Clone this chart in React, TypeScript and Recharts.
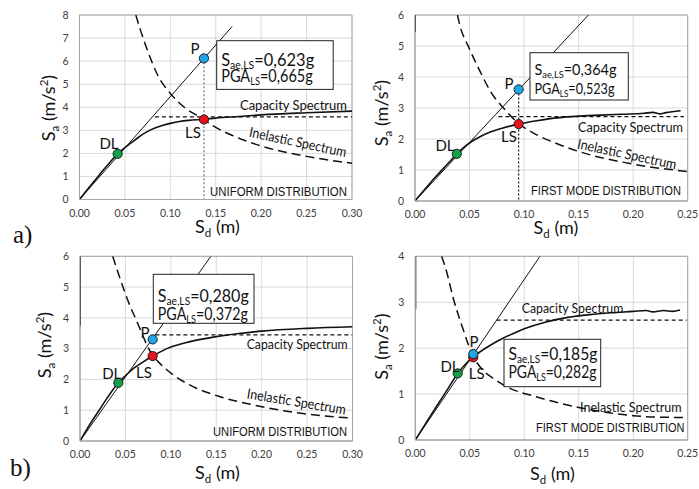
import React from 'react'
import {
  ComposedChart,
  Line,
  XAxis,
  YAxis,
  CartesianGrid,
  ReferenceArea,
  ReferenceDot,
} from 'recharts'

type Pt = [number, number]

// a) uniform distribution
const capA: Pt[] = [
  [0, 0], [0.01, 0.5], [0.02, 0.98], [0.03, 1.45], [0.042, 1.98], [0.05, 2.25],
  [0.056, 2.43], [0.065, 2.7], [0.074, 2.93], [0.083, 3.1], [0.092, 3.22], [0.1, 3.3],
  [0.11, 3.38], [0.12, 3.43], [0.137, 3.48], [0.15, 3.53], [0.176, 3.6], [0.2, 3.67],
  [0.25, 3.76], [0.3, 3.83],
]
const elasticA: Pt[] = [[0, 0], [0.168, 7.5]]
const bilinA: Pt[] = [[0.083, 3.58], [0.3, 3.58]]
const inelA: Pt[] = [
  [0.062, 8], [0.0665, 7.42], [0.075, 6.45], [0.0866, 5.35], [0.1, 4.6], [0.116, 3.98],
  [0.137, 3.47], [0.146, 3.22], [0.17, 2.75], [0.2, 2.32], [0.25, 1.87], [0.3, 1.57],
]
const dropA: Pt[] = [[0.137, 6.12], [0.137, 0]]
const pointsA = { P: [0.137, 6.12] as Pt, LS: [0.137, 3.47] as Pt, DL: [0.042, 1.98] as Pt }

// a) first mode distribution
const capB: Pt[] = [
  [0, 0], [0.01, 0.42], [0.02, 0.82], [0.03, 1.2], [0.0383, 1.52], [0.045, 1.74],
  [0.052, 1.92], [0.06, 2.08], [0.0673, 2.2], [0.08, 2.35], [0.095, 2.48], [0.11, 2.58],
  [0.1225, 2.65], [0.147, 2.73], [0.17, 2.77], [0.19, 2.8], [0.21, 2.83], [0.218, 2.86],
  [0.224, 2.81], [0.23, 2.85], [0.2435, 2.91],
]
const elasticB: Pt[] = [[0, 0], [0.159, 6]]
const bilinB: Pt[] = [[0.0765, 2.72], [0.2465, 2.72]]
const inelB: Pt[] = [
  [0.0389, 6], [0.041, 5.68], [0.049, 4.98], [0.0594, 4.2], [0.069, 3.55], [0.0836, 2.9],
  [0.095, 2.5], [0.1087, 2.19], [0.131, 1.84], [0.15, 1.6], [0.2, 1.19], [0.25, 0.95],
]
const inelAxisB: Pt[] = [[0, 5.45], [0, 6]]
const dropB: Pt[] = [[0.095, 3.6], [0.095, 0]]
const pointsB = { P: [0.095, 3.6] as Pt, LS: [0.095, 2.48] as Pt, DL: [0.0383, 1.52] as Pt }

// b) uniform distribution
const capC: Pt[] = [
  [0, 0], [0.01, 0.5], [0.02, 0.95], [0.03, 1.4], [0.0422, 1.89], [0.05, 2.12],
  [0.06, 2.38], [0.07, 2.58], [0.08, 2.76], [0.09, 2.92], [0.1, 3.05], [0.12, 3.22],
  [0.15, 3.39], [0.175, 3.49], [0.2, 3.57], [0.25, 3.66], [0.3, 3.71],
]
const elasticC: Pt[] = [[0, 0], [0.144, 6]]
const bilinC: Pt[] = [[0.083, 3.45], [0.3, 3.45]]
const inelC: Pt[] = [
  [0.036, 6], [0.0441, 5.28], [0.0533, 4.52], [0.0643, 3.77], [0.0753, 3.02], [0.08, 2.78],
  [0.0863, 2.57], [0.103, 2.14], [0.125, 1.76], [0.154, 1.44], [0.191, 1.17], [0.243, 0.9],
  [0.3, 0.74],
]
const inelAxisC: Pt[] = [[0, 3.74], [0, 6]]
const pointsC = { P: [0.08, 3.3] as Pt, LS: [0.08, 2.76] as Pt, DL: [0.0422, 1.89] as Pt }

// b) first mode distribution
const capD: Pt[] = [
  [0, 0], [0.01, 0.38], [0.02, 0.75], [0.03, 1.12], [0.0389, 1.45], [0.046, 1.65],
  [0.0532, 1.81], [0.06, 1.93], [0.07, 2.08], [0.08, 2.21], [0.09, 2.32], [0.1, 2.42],
  [0.12, 2.57], [0.14, 2.67], [0.16, 2.73], [0.18, 2.77], [0.2, 2.8], [0.212, 2.82],
  [0.218, 2.79], [0.228, 2.82], [0.236, 2.8], [0.243, 2.83],
]
const elasticD: Pt[] = [[0, 0], [0.1144, 4]]
const bilinD: Pt[] = [[0.0747, 2.61], [0.249, 2.61]]
const inelD: Pt[] = [
  [0.0242, 4], [0.0288, 3.66], [0.0349, 3.08], [0.0426, 2.5], [0.0532, 1.82], [0.0609, 1.55],
  [0.0716, 1.34], [0.0839, 1.16], [0.111, 0.94], [0.15, 0.71], [0.2, 0.53], [0.22, 0.5],
  [0.25, 0.49],
]
const inelAxisD: Pt[] = [[0, 2.85], [0, 4]]
const pointsD = { P: [0.0532, 1.87] as Pt, LS: [0.0532, 1.8] as Pt, DL: [0.0389, 1.45] as Pt }

const xTicks30 = [0, 0.05, 0.1, 0.15, 0.2, 0.25, 0.3]
const xTicks25 = [0, 0.05, 0.1, 0.15, 0.2, 0.25]
const yTicks8 = [0, 1, 2, 3, 4, 5, 6, 7, 8]
const yTicks6 = [0, 1, 2, 3, 4, 5, 6]
const yTicks4 = [0, 1, 2, 3, 4]

const FONT = 'Lato, "Open Sans", sans-serif'
const NARROW = '"Liberation Sans", Arial, sans-serif'
const SERIF = '"Liberation Serif", "DejaVu Serif", serif'
const X_H = 25
const Y_W = 30

const rows = (pts: Pt[]) => pts.map(([x, y]) => ({ x, y }))

interface PanelProps {
  box: { left: number; top: number; width: number; height: number }
  plot: { left: number; top: number; right: number; bottom: number }
  xTicks: number[]
  yTicks: number[]
  cap: Pt[]
  elastic: Pt[]
  bilin: Pt[]
  inel: Pt[]
  inelAxis?: Pt[]
  drop?: Pt[]
  dropColor?: string
  points: { P: Pt; LS: Pt; DL: Pt }
}

function Panel({ box, plot, xTicks, yTicks, cap, elastic, bilin, inel, inelAxis, drop, dropColor, points }: PanelProps) {
  const xMax = xTicks[xTicks.length - 1]
  const yMax = yTicks[yTicks.length - 1]
  const margin = {
    top: plot.top - box.top,
    left: plot.left - box.left - Y_W,
    right: box.left + box.width - plot.right,
    bottom: box.top + box.height - plot.bottom - X_H,
  }
  const tick = { fontSize: 10.5, fill: '#404040', fontFamily: FONT }
  const dot = (p: Pt, fill: string) => (
    <ReferenceDot x={p[0]} y={p[1]} r={4.6} fill={fill} stroke="#111" strokeWidth={0.9} ifOverflow="visible" />
  )
  return (
    <div style={{ position: 'absolute', left: box.left, top: box.top }}>
      <ComposedChart width={box.width} height={box.height} margin={margin}>
        <CartesianGrid stroke="#d9d9d9" strokeWidth={1} />
        <XAxis
          type="number"
          dataKey="x"
          domain={[0, xMax]}
          ticks={xTicks}
          interval={0}
          tickFormatter={(v: number) => v.toFixed(2)}
          height={X_H}
          tickLine={false}
          tickMargin={4}
          axisLine={{ stroke: '#a6a6a6' }}
          tick={tick}
          allowDataOverflow
        />
        <YAxis
          type="number"
          domain={[0, yMax]}
          ticks={yTicks}
          interval={0}
          width={Y_W}
          tickLine={false}
          tickMargin={5}
          axisLine={{ stroke: '#a6a6a6' }}
          tick={tick}
          allowDataOverflow
        />
        <ReferenceArea x1={0} x2={xMax} y1={0} y2={yMax} fill="none" fillOpacity={0} stroke="#a6a6a6" strokeWidth={1} />
        <Line data={rows(inel)} dataKey="y" type="monotone" stroke="#111" strokeWidth={1.5} strokeDasharray="9 5" dot={false} activeDot={false} isAnimationActive={false} />
        {inelAxis && (
          <Line data={rows(inelAxis)} dataKey="y" type="linear" stroke="#111" strokeWidth={2} dot={false} activeDot={false} isAnimationActive={false} />
        )}
        <Line data={rows(bilin)} dataKey="y" type="linear" stroke="#111" strokeWidth={1.3} strokeDasharray="4 3" dot={false} activeDot={false} isAnimationActive={false} />
        <Line data={rows(elastic)} dataKey="y" type="linear" stroke="#111" strokeWidth={1} dot={false} activeDot={false} isAnimationActive={false} />
        <Line data={rows(cap)} dataKey="y" type="monotone" stroke="#111" strokeWidth={1.6} dot={false} activeDot={false} isAnimationActive={false} />
        {drop && (
          <Line data={rows(drop)} dataKey="y" type="linear" stroke={dropColor} strokeWidth={1.3} strokeDasharray="2 2" dot={false} activeDot={false} isAnimationActive={false} />
        )}
        {dot(points.DL, '#12a34a')}
        {dot(points.LS, '#e8141c')}
        {dot(points.P, '#1ea6e6')}
      </ComposedChart>
    </div>
  )
}

function SubText({ x, y, size, len, a, sub, b }: { x: number; y: number; size: number; len: number; a: string; sub: string; b: string }) {
  const s = size * 0.64
  const d = size * 0.2
  return (
    <text x={x} y={y} fontSize={size} fontFamily={FONT} fill="#111" textLength={len} lengthAdjust="spacingAndGlyphs">
      {a}
      <tspan fontSize={s} dy={d}>{sub}</tspan>
      <tspan fontSize={size} dy={-d}>{b}</tspan>
    </text>
  )
}

function InfoBox({ x, y, w, h, size, b1, b2, len1, len2, s, pga }: {
  x: number; y: number; w: number; h: number; size: number; b1: number; b2: number; len1: number; len2: number; s: string; pga: string
}) {
  return (
    <g>
      <rect x={x} y={y} width={w} height={h} fill="#fff" stroke="#222" strokeWidth={1} />
      <SubText x={x + 4.5} y={b1} size={size} len={len1} a="S" sub="ae,LS" b={'=' + s} />
      <SubText x={x + 4.5} y={b2} size={size} len={len2} a="PGA" sub="LS" b={'=' + pga} />
    </g>
  )
}

function Label({ x, y, text, size = 15 }: { x: number; y: number; text: string; size?: number }) {
  return (
    <text x={x} y={y} fontSize={size} fontFamily={FONT} fill="#111" textAnchor="middle">
      {text}
    </text>
  )
}

function Curved({ cx, cy, angle, len, text }: { cx: number; cy: number; angle: number; len: number; text: string }) {
  return (
    <text
      x={cx}
      y={cy + 5}
      fontSize={14}
      fontFamily={FONT}
      fill="#111"
      textAnchor="middle"
      textLength={len}
      lengthAdjust="spacingAndGlyphs"
      transform={`rotate(${angle} ${cx} ${cy})`}
    >
      {text}
    </text>
  )
}

function Flat({ x, y, len, text }: { x: number; y: number; len: number; text: string }) {
  return (
    <text x={x} y={y} fontSize={14} fontFamily={FONT} fill="#111" textLength={len} lengthAdjust="spacingAndGlyphs">
      {text}
    </text>
  )
}

// condensed caption: squeezed horizontally like a narrow face
function Narrow({ x, y, len, text, sx }: { x: number; y: number; len: number; text: string; sx: number }) {
  return (
    <text
      x={0}
      y={0}
      fontSize={13.5}
      fontFamily={NARROW}
      fill="#111"
      textLength={len / sx}
      lengthAdjust="spacingAndGlyphs"
      transform={`translate(${x} ${y}) scale(${sx} 1)`}
    >
      {text}
    </text>
  )
}

function XTitle({ cx, y }: { cx: number; y: number }) {
  return (
    <text x={cx} y={y} fontSize={18} fontFamily={FONT} fill="#111" textAnchor="middle">
      S<tspan fontSize={11.5} dy={4}>d</tspan>
      <tspan dy={-4}> (m)</tspan>
    </text>
  )
}

function YTitle({ x, cy }: { x: number; cy: number }) {
  return (
    <text x={x} y={cy} fontSize={18} fontFamily={FONT} fill="#111" textAnchor="middle" transform={`rotate(-90 ${x} ${cy})`}>
      S<tspan fontSize={11.5} dy={4}>a</tspan>
      <tspan dy={-4}> (m/s</tspan>
      <tspan fontSize={11.5} dy={-7}>2</tspan>
      <tspan dy={7}>)</tspan>
    </text>
  )
}

function Annotations() {
  return (
    <svg width={699} height={489} style={{ position: 'absolute', left: 0, top: 0, pointerEvents: 'none' }}>
      {/* a) uniform */}
      <InfoBox x={216.7} y={40.7} w={116.5} h={48.7} size={16.5} b1={66} b2={81.5} len1={93} len2={91.5} s="0,623g" pga="0,665g" />
      <Label x={195} y={53.5} text="P" />
      <Label x={193} y={137.5} text="LS" />
      <Label x={109} y={148.5} text="DL" />
      <Flat x={240} y={110} len={107} text="Capacity Spectrum" />
      <Curved cx={298} cy={142} angle={12} len={99} text="Inelastic Spectrum" />
      <Narrow x={210} y={195.5} len={137} sx={0.82} text="UNIFORM DISTRIBUTION" />
      <XTitle cx={217.5} y={233} />
      <YTitle x={54.5} cy={108} />
      <text x={13} y={243} fontSize={25} fontFamily={SERIF} fill="#111">a)</text>

      {/* a) first mode */}
      <InfoBox x={530} y={52.7} w={98.3} h={47.3} size={16} b1={75} b2={94} len1={82} len2={80} s="0,364g" pga="0,523g" />
      <Label x={509} y={88.5} text="P" />
      <Label x={509} y={141.5} text="LS" />
      <Label x={445} y={150.5} text="DL" />
      <Flat x={578} y={131.7} len={105} text="Capacity Spectrum" />
      <Curved cx={627} cy={154} angle={12} len={101} text="Inelastic Spectrum" />
      <Narrow x={531} y={194.5} len={150} sx={0.8} text="FIRST MODE DISTRIBUTION" />
      <XTitle cx={556} y={234} />
      <YTitle x={387.5} cy={113} />

      {/* b) uniform */}
      <InfoBox x={153.3} y={274.3} w={100.7} h={49} size={16.5} b1={301.5} b2={319.5} len1={91} len2={90} s="0,280g" pga="0,372g" />
      <Label x={145} y={337.8} text="P" />
      <Label x={144} y={378.2} text="LS" />
      <Label x={111.7} y={378.8} text="DL" />
      <Flat x={246.7} y={349.3} len={101} text="Capacity Spectrum" />
      <Curved cx={296.5} cy={401.5} angle={9.5} len={100} text="Inelastic Spectrum" />
      <Narrow x={213} y={436} len={134} sx={0.82} text="UNIFORM DISTRIBUTION" />
      <XTitle cx={217.5} y={479} />
      <YTitle x={51} cy={345} />
      <text x={10} y={476} fontSize={25} fontFamily={SERIF} fill="#111">b)</text>

      {/* b) first mode */}
      <InfoBox x={504} y={339.3} w={96.7} h={47.4} size={16.5} b1={359.5} b2={378} len1={89} len2={88} s="0,185g" pga="0,282g" />
      <Label x={474} y={347.2} text="P" />
      <Label x={476.7} y={378.8} text="LS" />
      <Label x={450} y={372.2} text="DL" />
      <Flat x={521.7} y={313.3} len={101.6} text="Capacity Spectrum" />
      <Flat x={580} y={412.3} len={101.7} text="Inelastic Spectrum" />
      <Narrow x={536} y={431.5} len={148.5} sx={0.8} text="FIRST MODE DISTRIBUTION" />
      <XTitle cx={552.5} y={480} />
      <YTitle x={388.5} cy={346.7} />
    </svg>
  )
}

export default function App() {
  return (
    <div style={{ position: 'absolute', left: 0, top: 0, width: 699, height: 489, background: '#fff', overflow: 'hidden' }}>
      <Panel
        box={{ left: 0, top: 0, width: 372, height: 245 }}
        plot={{ left: 79.5, top: 15, right: 352, bottom: 199.5 }}
        xTicks={xTicks30}
        yTicks={yTicks8}
        cap={capA}
        elastic={elasticA}
        bilin={bilinA}
        inel={inelA}
        drop={dropA}
        dropColor="#808080"
        points={pointsA}
      />
      <Panel
        box={{ left: 360, top: 0, width: 339, height: 245 }}
        plot={{ left: 415, top: 15, right: 687.7, bottom: 201 }}
        xTicks={xTicks25}
        yTicks={yTicks6}
        cap={capB}
        elastic={elasticB}
        bilin={bilinB}
        inel={inelB}
        inelAxis={inelAxisB}
        drop={dropB}
        dropColor="#222"
        points={pointsB}
      />
      <Panel
        box={{ left: 0, top: 245, width: 372, height: 244 }}
        plot={{ left: 80, top: 256.3, right: 352.5, bottom: 441 }}
        xTicks={xTicks30}
        yTicks={yTicks6}
        cap={capC}
        elastic={elasticC}
        bilin={bilinC}
        inel={inelC}
        inelAxis={inelAxisC}
        points={pointsC}
      />
      <Panel
        box={{ left: 360, top: 245, width: 339, height: 244 }}
        plot={{ left: 415.3, top: 256.3, right: 687.7, bottom: 440 }}
        xTicks={xTicks25}
        yTicks={yTicks4}
        cap={capD}
        elastic={elasticD}
        bilin={bilinD}
        inel={inelD}
        inelAxis={inelAxisD}
        points={pointsD}
      />
      <Annotations />
    </div>
  )
}
